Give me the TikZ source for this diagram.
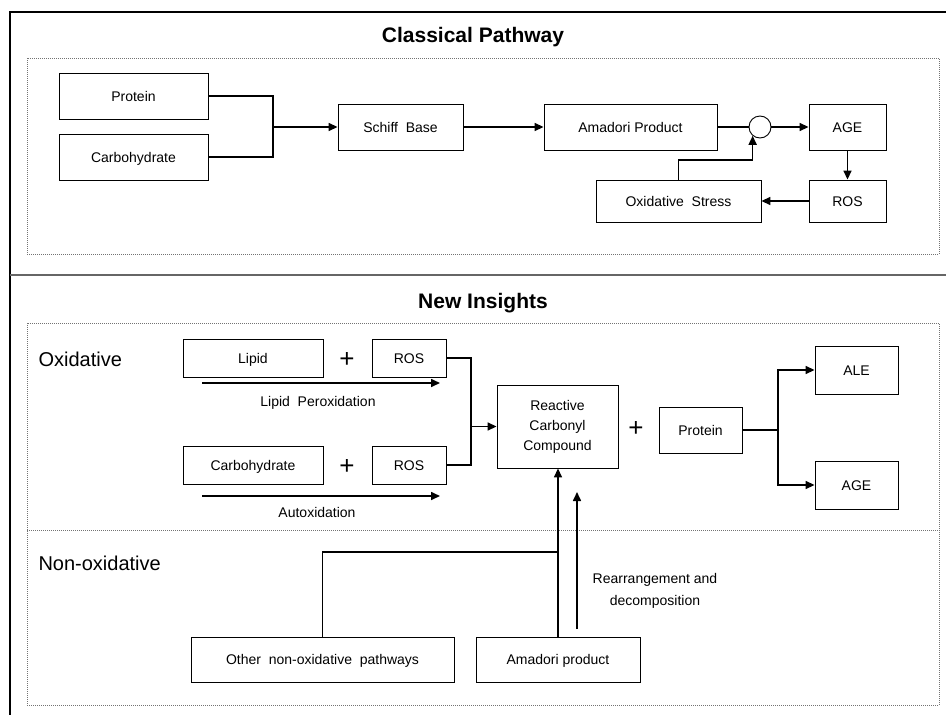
\documentclass[tikz,border=0pt]{standalone}
\usepackage{fontspec}
\setmainfont{Liberation Sans}
\usetikzlibrary{arrows.meta}
\begin{document}
\begin{tikzpicture}[x=1pt,y=-1pt,
  box/.style={draw=black,line width=0.9pt,rectangle,inner sep=0pt,
    font=\fontsize{14}{17}\selectfont,text height=10pt,text depth=0pt},
  tallbox/.style={draw=black,line width=0.9pt,rectangle,inner sep=0pt,
    font=\fontsize{14}{17}\selectfont,align=center},
  conn/.style={line width=1.6pt},
  arr/.style={conn,-{Triangle[length=9pt,width=8pt]}},
  frame/.style={line width=1.3pt},
  dotbox/.style={draw=black!55,line width=1pt,dash pattern=on 1pt off 1pt},
  title/.style={font=\bfseries\fontsize{21}{24}\selectfont},
  region/.style={font=\fontsize{20}{24}\selectfont,anchor=west},
  lbl/.style={font=\fontsize{14}{17}\selectfont},
  plus/.style={font=\fontsize{26}{26}\selectfont,inner sep=0pt,
    text height=18pt,text depth=0pt}]
\useasboundingbox (0,0) rectangle (946,715);

% outer frame and section divider
\draw[frame] (10,715) -- (10,12) -- (946,12);
\draw[line width=1.5pt,draw=black!60] (10,275) -- (946,275);

% dotted section panels
\draw[dotbox] (27,58) rectangle (939,254);
\draw[dotbox] (27,323) rectangle (939,705);
\draw[dotbox] (27,530) -- (939,530);

% ---------- Classical pathway ----------
\node[title] (t1) at (473,37) {Classical Pathway};

\node[box,minimum width=149pt,minimum height=46pt] (protein) at (133.5,96) {Protein};
\node[box,minimum width=149pt,minimum height=46pt] (carb) at (133.5,157) {Carbohydrate};
\node[box,minimum width=125pt,minimum height=46pt] (schiff) at (400.5,127) {Schiff\ \ Base};
\node[box,minimum width=173pt,minimum height=46pt] (amadori) at (630.5,127) {Amadori Product};
\node[draw=black,line width=0.9pt,circle,minimum size=22pt,inner sep=0pt] (circ) at (760,127) {};
\node[box,minimum width=77pt,minimum height=46pt] (age) at (847.5,127) {AGE};
\node[box,minimum width=77pt,minimum height=42pt] (ros) at (847.5,201) {ROS};
\node[box,minimum width=165pt,minimum height=42pt] (oxs) at (678.5,201) {Oxidative\ \ Stress};

\coordinate (j1) at (273,127);
\coordinate (k1) at (753,160);
\draw[conn] (protein.east) -| (j1) |- (carb.east);
\draw[arr] (j1) -- (schiff.west);
\draw[arr] (schiff.east) -- (amadori.west);
\draw[conn] (amadori.east) -- (circ.west);
\draw[arr] (circ.east) -- (age.west);
\draw[arr] (age.south) -- (ros.north);
\draw[arr] (ros.west) -- (oxs.east);
\draw[arr] (oxs.north) |- (circ.230 |- k1) -- (circ.230);

% ---------- New insights ----------
\node[title] (t2) at (483,303) {New Insights};
\node[region] (oxl) at (35,359) {Oxidative};
\node[region] (nonox) at (35,563) {Non-oxidative};

\node[box,minimum width=140pt,minimum height=38pt] (lipid) at (253,358) {Lipid};
\node[plus] (p1) at (347,358) {+};
\node[box,minimum width=74pt,minimum height=38pt] (ros1) at (409,358) {ROS};
\node[box,minimum width=140pt,minimum height=38pt] (carb2) at (253,465) {Carbohydrate};
\node[plus] (p2) at (347,465) {+};
\node[box,minimum width=74pt,minimum height=38pt] (ros2) at (409,465) {ROS};

\coordinate (lp1) at (202,383);
\coordinate (lp2) at (440,383);
\draw[arr] (lp1) -- (lp2);
\node[lbl] (lpl) at (318,403) {Lipid\ \ Peroxidation};
\coordinate (ax1) at (202,496);
\coordinate (ax2) at (440,496);
\draw[arr] (ax1) -- (ax2);
\node[lbl] (axl) at (317,512) {Autoxidation};

\node[tallbox,minimum width=121pt,minimum height=83pt] (rcc) at (557.5,426.5)
  {Reactive\\[3pt]Carbonyl\\[3pt]Compound};
\node[plus] (p3) at (636,427) {+};
\node[box,minimum width=83pt,minimum height=46pt] (prot2) at (700.5,430) {Protein};
\node[box,minimum width=83pt,minimum height=48pt] (ale) at (856.5,370) {ALE};
\node[box,minimum width=83pt,minimum height=48pt] (age2) at (856.5,485) {AGE};

\coordinate (j2) at (471,426.5);
\draw[conn] (ros1.east) -| (j2) |- (ros2.east);
\draw[arr] (j2) -- (rcc.west);

\coordinate (j3) at (778,430);
\draw[conn] (prot2.east) -- (j3);
\draw[arr] (j3) |- (ale.west);
\draw[arr] (j3) |- (age2.west);

\node[box,minimum width=263pt,minimum height=45pt] (other) at (322.5,659.5) {Other\ \ non-oxidative\ \ pathways};
\node[box,minimum width=164pt,minimum height=45pt] (amad2) at (558,659.5) {Amadori product};

\coordinate (j4) at (558,552);
\draw[conn] (other.north) |- (j4);
\draw[arr] (amad2.north) -- (amad2.north |- rcc.south);
\coordinate (ra1) at (577,629);
\coordinate (ra2) at (577,492);
\draw[arr] (ra1) -- (ra2);
\node[lbl,align=center] (ral) at (655,590.5) {Rearrangement and\\[5pt]decomposition};
\end{tikzpicture}
\end{document}
